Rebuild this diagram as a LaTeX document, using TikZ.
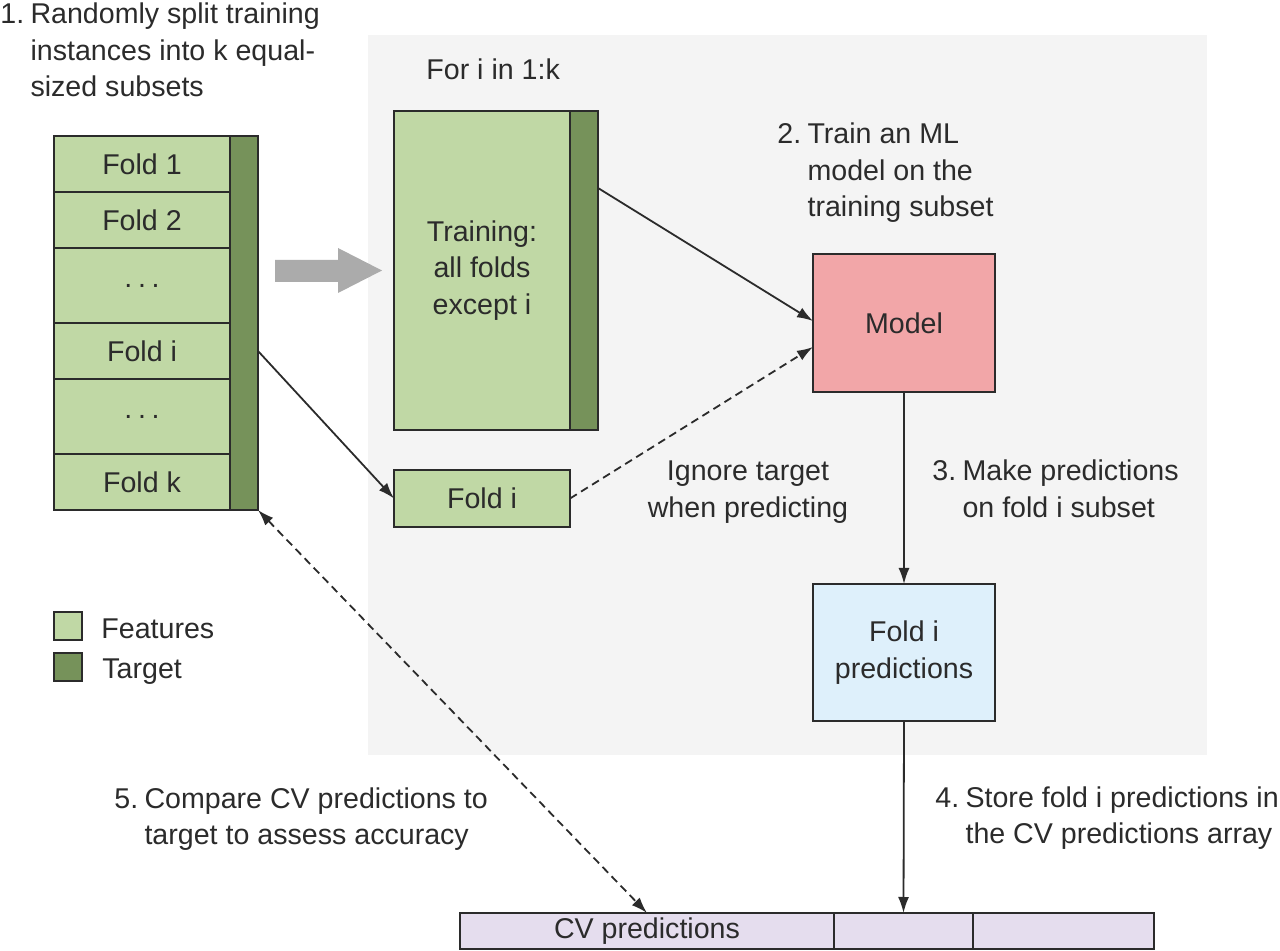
\documentclass[tikz,border=0pt]{standalone}
\usepackage{fontspec}
\setmainfont{Liberation Sans}
\usetikzlibrary{positioning,arrows.meta}

\definecolor{ink}{HTML}{2B2B2B}
\definecolor{featgreen}{HTML}{C0D8A5}
\definecolor{tgtgreen}{HTML}{76925A}
\definecolor{modelpink}{HTML}{F2A6A8}
\definecolor{predblue}{HTML}{DEF0FB}
\definecolor{cvlilac}{HTML}{E5DDEE}
\definecolor{loopgray}{HTML}{F4F4F4}
\definecolor{arrowgray}{HTML}{ABABAB}

\newcommand{\folddots}{.\hspace{0.2em}.\hspace{0.2em}.}

\begin{document}
\begin{tikzpicture}[x=0.5pt, y=-0.5pt, color=ink,
    font=\fontsize{14.3}{18.25}\selectfont]

    \tikzset{cell/.style={%
      draw,%
      rectangle,%
      line width=1pt,%
      inner sep=0pt,%
      outer sep=0pt,%
      anchor=north west}%
    };
    \tikzset{feat/.style={cell, fill=featgreen, minimum width=88pt}};
    \tikzset{tgt/.style={cell, fill=tgtgreen, minimum width=14pt}};
    \tikzset{lbl/.style={inner sep=0pt, anchor=base west}};
    \tikzset{arrow/.style={%
      -{Latex[length=8pt,width=5.5pt]},%
      line width=0.9pt}%
    };
    \tikzset{dasharrow/.style={arrow, dash pattern=on 4pt off 2.5pt}};

    \renewcommand{\arraystretch}{1}

    \useasboundingbox (0,0) rectangle (1280,951);

    %%%%%%%%%%%%%%
    % background %
    %%%%%%%%%%%%%%
    \node [fill=loopgray, inner sep=0pt, anchor=north west,
      minimum width=419.5pt, minimum height=360pt] (loopbox) at (368,35) {};

    %%%%%%%%%%%%%%%
    % fold stack  %
    %%%%%%%%%%%%%%%
    \node [feat, minimum height=28pt] (row1) at (54,136) {Fold 1};
    \node [feat, minimum height=28pt, below=0pt of row1] (row2) {Fold 2};
    \node [feat, minimum height=37.5pt, below=0pt of row2] (dots1) {\folddots};
    \node [feat, minimum height=28pt, below=0pt of dots1] (rowi) {Fold i};
    \node [feat, minimum height=37.5pt, below=0pt of rowi] (dots2) {\folddots};
    \node [feat, minimum height=28pt, below=0pt of dots2] (rowk) {Fold k};
    \node [tgt, minimum height=187pt] (tgt) at (row1.north east) {};

    \fill [arrowgray] (275,260) -- (338,260) -- (338,248) -- (382,270.5)
      -- (338,293) -- (338,282) -- (275,282) -- cycle;

    %%%%%%%%%%%%%%%%%
    % loop contents %
    %%%%%%%%%%%%%%%%%
    \node [feat, minimum height=159.5pt] (trfeat) at (394,111) {
      \begin{tabular}{c}
        Training: \\ all folds \\ except i
      \end{tabular}
    };
    \node [tgt, minimum height=159.5pt] (trtgt) at (trfeat.north east) {};

    \node [feat, minimum height=28.5pt] (fold) at (394,470) {Fold i};

    \node [cell, fill=modelpink, minimum width=91pt, minimum height=69pt]
      (model) at (813,254) {Model};

    \node [cell, fill=predblue, minimum width=91pt, minimum height=68.5pt]
      (pred) at (813,584) {
      \begin{tabular}{c}
        Fold i \\ predictions
      \end{tabular}
    };

    %%%%%%%%%%%%%%%%%%
    % CV predictions %
    %%%%%%%%%%%%%%%%%%
    \node [cell, fill=cvlilac, minimum width=187pt, minimum height=18pt]
      (cv1) at (460,913) {CV predictions};
    \node [cell, fill=cvlilac, minimum width=69.5pt, minimum height=18pt,
      right=0pt of cv1] (cv2) {};
    \node [cell, fill=cvlilac, minimum width=90.5pt, minimum height=18pt,
      right=0pt of cv2] (cv3) {};

    %%%%%%%%%%
    % legend %
    %%%%%%%%%%
    \node [cell, fill=featgreen, minimum size=14pt] (legfeat) at (54,612) {};
    \node [cell, fill=tgtgreen, minimum size=14pt] (legtgt) at (54,653) {};
    \node [lbl] (legfeattext) at (101,639) {Features};
    \node [lbl] (legtgttext) at (102,679) {Target};

    %%%%%%%%%%
    % labels %
    %%%%%%%%%%
    \node [lbl] (step1) at (0,24) {
      \begin{tabular}[t]{@{}l@{\hspace{0.22em}}l@{}}
        1. & Randomly split training \\
           & instances into k equal- \\
           & sized subsets
      \end{tabular}
    };
    \node [lbl] (fori) at (426,80) {For i in 1:k};
    \node [lbl] (step2) at (777,144) {
      \begin{tabular}[t]{@{}l@{\hspace{0.22em}}l@{}}
        2. & Train an ML \\
           & model on the \\
           & training subset
      \end{tabular}
    };
    \node [lbl, anchor=base] (ignore) at (748,481) {
      \begin{tabular}[t]{@{}c@{}}
        Ignore target \\ when predicting
      \end{tabular}
    };
    \node [lbl] (step3) at (932,481) {
      \begin{tabular}[t]{@{}l@{\hspace{0.22em}}l@{}}
        3. & Make predictions \\
           & on fold i subset
      \end{tabular}
    };
    \node [lbl] (step4) at (935,807) {
      \begin{tabular}[t]{@{}l@{\hspace{0.22em}}l@{}}
        4. & Store fold i predictions in \\
           & the CV predictions array
      \end{tabular}
    };
    \node [lbl] (step5) at (114,808) {
      \begin{tabular}[t]{@{}l@{\hspace{0.22em}}l@{}}
        5. & Compare CV predictions to \\
           & target to assess accuracy
      \end{tabular}
    };

    %%%%%%%%%%
    % arrows %
    %%%%%%%%%%
    \draw [arrow] (rowi.center -| tgt.east) -- (fold.west);
    \draw [arrow] ([yshift=-38.5pt]trtgt.north east) -- ([yshift=1pt]model.west);
    \draw [dasharrow] (fold.east) -- ([yshift=-12pt]model.west);
    \draw [arrow] (model.south) -- (pred.north);
    \draw [arrow] (pred.south) -- (cv2.north);
    \draw [dasharrow, {Latex[length=8pt,width=5.5pt]}-{Latex[length=8pt,width=5.5pt]}]
      (tgt.south east) -- (cv1.north);

  \end{tikzpicture}
\end{document}
